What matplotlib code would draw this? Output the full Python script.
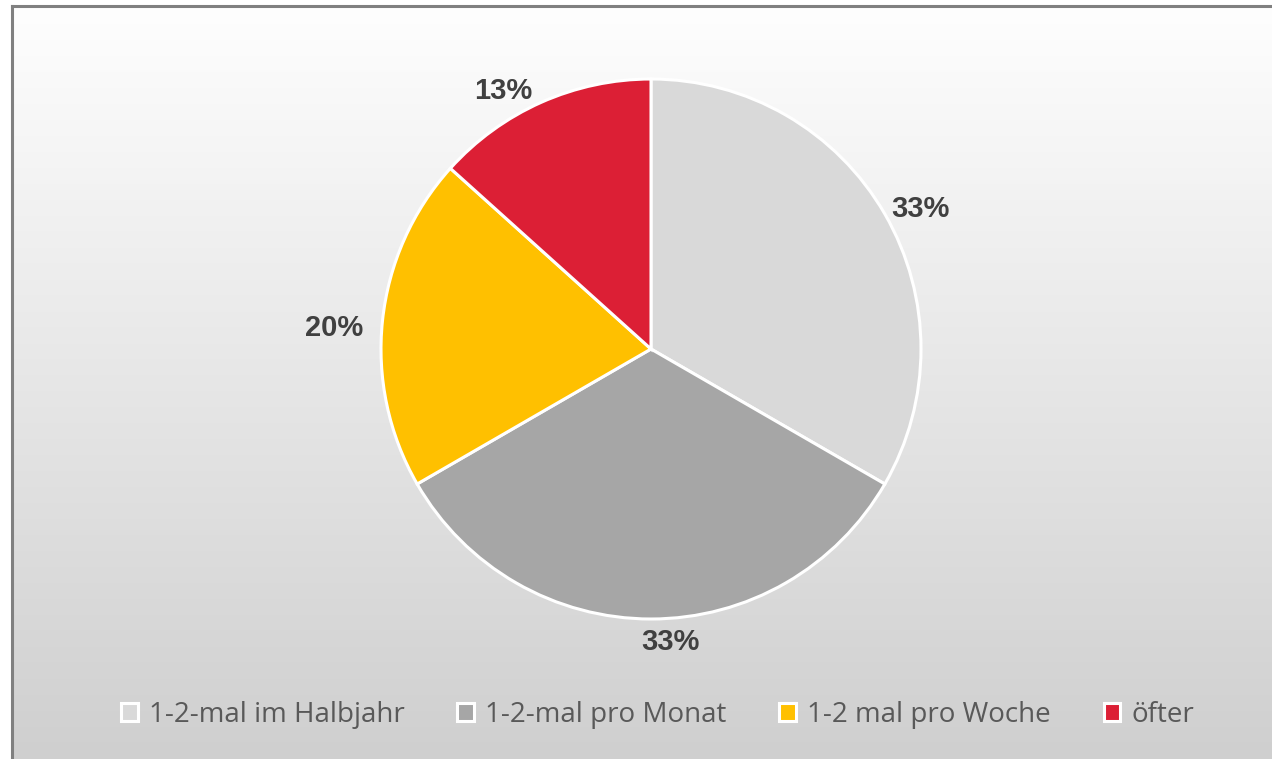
import numpy as np
import matplotlib.pyplot as plt
from matplotlib.lines import Line2D

categories = ["1-2-mal im Halbjahr", "1-2-mal pro Monat", "1-2 mal pro Woche", "öfter"]
values = [5, 5, 3, 2]
colors = ["#d9d9d9", "#a6a6a6", "#ffc000", "#dc1f35"]
# nudges for the percent labels (pixels), Excel-style outside end placement
label_nudge = [(5, -13), (19, 12), (-13, -11), (-24, -21)]

W, H = 1272, 759
fig = plt.figure(figsize=(W / 100, H / 100), dpi=100)
fig.patch.set_facecolor("white")

# gradient background of the chart area
bg = fig.add_axes([13 / W, 0, 1 - 13 / W, 1 - 7 / H], zorder=0)
grad = np.linspace(0.996, 0.812, 256).reshape(-1, 1)
bg.imshow(np.dstack([grad, grad, grad]), aspect="auto", extent=[0, 1, 0, 1])
bg.set_axis_off()

# frame (top and left edges visible)
fig.add_artist(Line2D([12 / W, 1], [1 - 6 / H, 1 - 6 / H], transform=fig.transFigure,
                      color="#808080", lw=2.2))
fig.add_artist(Line2D([12 / W, 12 / W], [0, 1 - 6 / H], transform=fig.transFigure,
                      color="#808080", lw=2.2))

cx, cy, r = 651, 349, 270
ax = fig.add_axes([(cx - r) / W, (H - cy - r) / H, 2 * r / W, 2 * r / H], zorder=1)
ax.set_facecolor("none")
wedges, _ = ax.pie(values, colors=colors, startangle=90, counterclock=False,
                   wedgeprops=dict(edgecolor="white", linewidth=2.2), radius=1)
ax.set_xlim(-1, 1)
ax.set_ylim(-1, 1)
ax.set_aspect("equal")
ax.set_axis_off()

total = sum(values)
for w, v, (nx, ny) in zip(wedges, values, label_nudge):
    ang = np.deg2rad((w.theta1 + w.theta2) / 2)
    x, y = 1.13 * np.cos(ang), 1.13 * np.sin(ang)
    ax.annotate("{:.0f}%".format(100 * v / total), (x, y), xytext=(nx * 0.72, ny * 0.72),
                textcoords="offset points", ha="center", va="center",
                fontsize=21, fontweight="bold", color="#404040",
                family="Liberation Sans", annotation_clip=False)

leg = fig.legend(wedges, categories, loc="center", bbox_to_anchor=(0.517, 1 - 715 / H),
                 ncol=4, frameon=False, handlelength=0.6, handleheight=0.6,
                 handletextpad=0.4, columnspacing=1.9,
                 prop=dict(family="Open Sans", size=20))
for t in leg.get_texts():
    t.set_color("#595959")

fig.savefig("out.png", dpi=100)
